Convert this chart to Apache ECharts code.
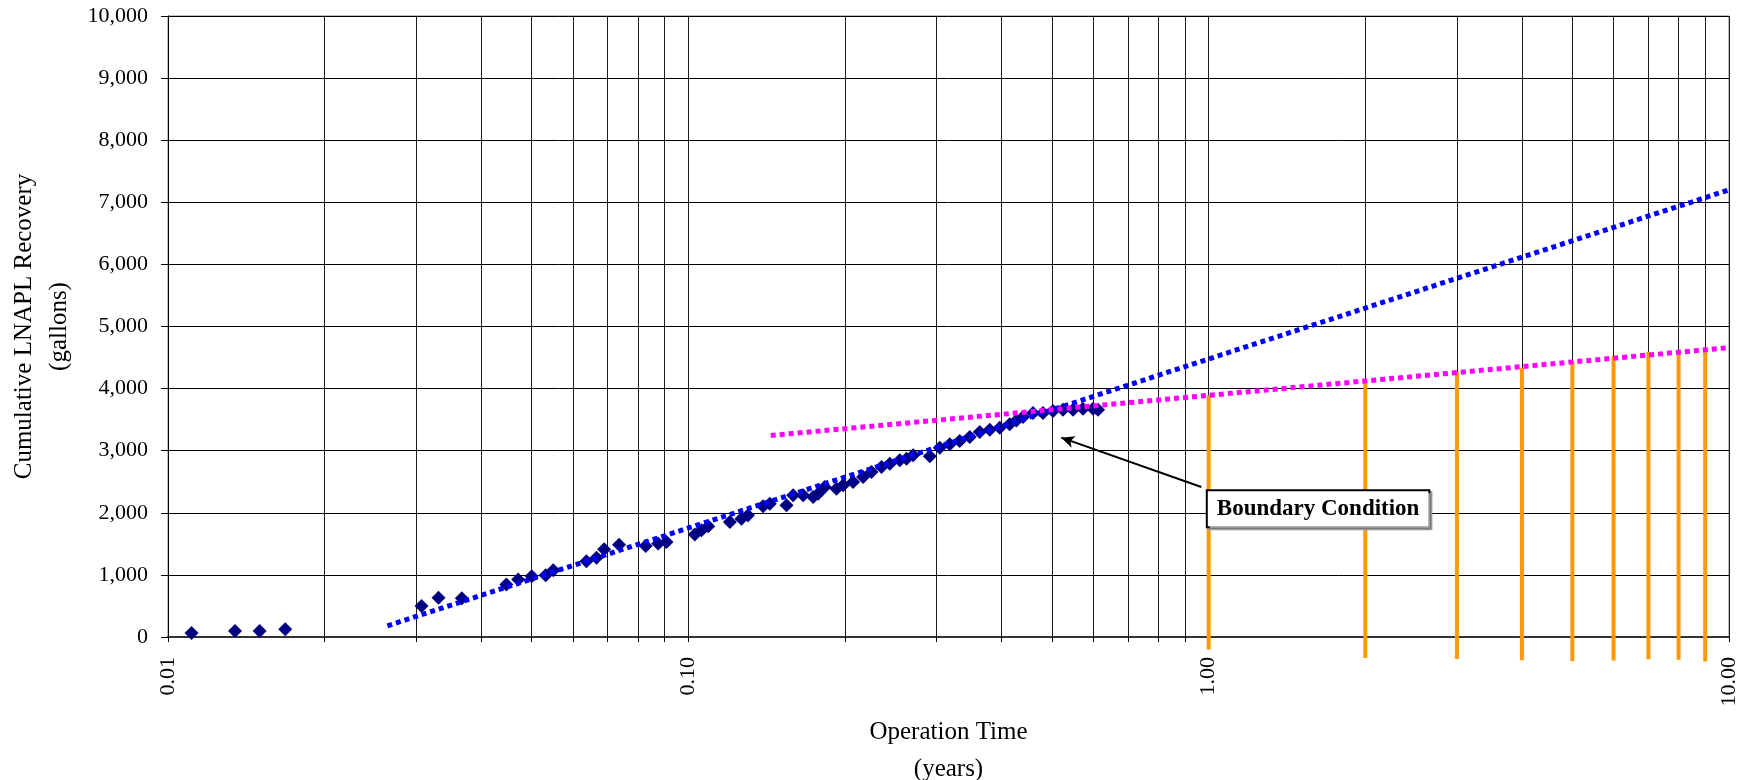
<!DOCTYPE html>
<html>
<head>
<meta charset="utf-8">
<script src="https://cdn.jsdelivr.net/npm/echarts@6/dist/echarts.min.js"></script>
<style>
  html, body { margin: 0; padding: 0; background: #fff; }
  #chart { width: 1751px; height: 780px; }
</style>
</head>
<body>
<div id="chart"></div>
<script>
// operation time (years) and cumulative recovery (gallons)
const timeYears = [0.0111, 0.01345, 0.0150, 0.0168, 0.0307, 0.0331, 0.0367, 0.0447, 0.0471, 0.0500,
  0.0532, 0.0550, 0.0637, 0.0666, 0.0689, 0.0736, 0.0828, 0.0875, 0.0908, 0.1029,
  0.1060, 0.1092, 0.1202, 0.1265, 0.1302, 0.1392, 0.1434, 0.1544, 0.1590, 0.1662,
  0.1737, 0.1776, 0.1829, 0.1926, 0.1983, 0.2073, 0.2167, 0.2249, 0.2351, 0.2439,
  0.2549, 0.2626, 0.2704, 0.2911, 0.3042, 0.3180, 0.3323, 0.3474, 0.3631, 0.3796,
  0.3967, 0.4146, 0.4271, 0.4397, 0.4596, 0.4804, 0.5021, 0.5249, 0.5487, 0.5735,
  0.5995, 0.6129];
const recovery = [65, 97, 97, 124, 499, 634, 625, 844, 924, 977,
  993, 1074, 1219, 1278, 1412, 1487, 1465, 1504, 1529, 1649,
  1718, 1782, 1851, 1906, 1959, 2104, 2147, 2120, 2281, 2281,
  2254, 2308, 2415, 2389, 2442, 2495, 2576, 2656, 2737, 2791,
  2845, 2872, 2925, 2909, 3049, 3102, 3155, 3220, 3300, 3339,
  3371, 3424, 3488, 3542, 3606, 3606, 3638, 3661, 3661, 3677,
  3677, 3661];

// dotted trend lines (end points)
const trendAllX = [0.0264, 10];
const trendAllY = [180, 7200];
const trendLateX = [0.144, 10];
const trendLateY = [3245, 4660];

// orange drop bars
const barX = [1, 2, 3, 4, 5, 6, 7, 8, 9];
const barLow = [-200, -340, -355, -375, -385, -380, -360, -365, -395];
const barHigh = [3891, 4131, 4266, 4337, 4443, 4523, 4594, 4610, 4636];

// axis ticks
const xLabelValues = [0.01, 0.1, 1, 10];
const xTickValues = [0.01, 0.02, 0.03, 0.04, 0.05, 0.06, 0.07, 0.08, 0.09,
  0.1, 0.2, 0.3, 0.4, 0.5, 0.6, 0.7, 0.8, 0.9,
  1, 2, 3, 4, 5, 6, 7, 8, 9, 10];

// annotation
const noteText = 'Boundary Condition';
const noteAt = [1.623, 2064];
const arrowFrom = [0.968, 2415];
const arrowTo = [0.521, 3210];

const font = 'Liberation Serif';
const chart = echarts.init(document.getElementById('chart'));

const pairs = (xs, ys) => xs.map((x, i) => [x, ys[i]]);

chart.setOption({
  animation: false,
  grid: {
    left: 168, right: 22, top: 16, bottom: 143,
    containLabel: false, outerBoundsMode: 'none',
    show: true, borderColor: '#808080', borderWidth: 1
  },
  xAxis: {
    type: 'log',
    logBase: 10,
    min: 0.01,
    max: 10,
    name: 'Operation Time\n(years)',
    nameLocation: 'middle',
    nameGap: 77,
    nameTextStyle: { fontFamily: font, fontSize: 25, color: '#000', lineHeight: 37 },
    axisLine: { lineStyle: { color: '#333', width: 2 } },
    axisTick: { show: true, length: 5, customValues: xTickValues, lineStyle: { color: '#000' } },
    axisLabel: {
      customValues: xLabelValues,
      rotate: 90,
      margin: 20,
      fontFamily: font,
      fontSize: 22,
      color: '#000',
      formatter: v => Number(v).toFixed(2)
    },
    splitLine: { show: true, lineStyle: { color: '#1a1a1a', width: 1 } },
    minorTick: { show: false },
    minorSplitLine: { show: false }
  },
  yAxis: {
    type: 'value',
    min: 0,
    max: 10000,
    interval: 1000,
    name: 'Cumulative LNAPL Recovery\n(gallons)',
    nameLocation: 'middle',
    nameGap: 91,
    nameTextStyle: { fontFamily: font, fontSize: 25, color: '#000', lineHeight: 35 },
    axisLine: { show: true, lineStyle: { color: '#000', width: 1 } },
    axisTick: { show: true, length: 7, lineStyle: { color: '#000' } },
    axisLabel: {
      margin: 20,
      fontFamily: font,
      fontSize: 22,
      color: '#000',
      formatter: v => String(v).replace(/\B(?=(\d{3})+(?!\d))/g, ',')
    },
    splitLine: { show: true, lineStyle: { color: '#000', width: 1 } }
  },
  series: [
    {
      type: 'custom',
      name: 'bars',
      data: barX.map((x, i) => [x, barLow[i], barHigh[i]]),
      encode: { x: 0, y: [1, 2] },
      renderItem: (params, api) => {
        const p0 = api.coord([api.value(0), api.value(1)]);
        const p1 = api.coord([api.value(0), api.value(2)]);
        return {
          type: 'line',
          shape: { x1: p0[0], y1: p0[1], x2: p1[0], y2: p1[1] },
          style: { stroke: '#FF9900', lineWidth: 4 }
        };
      },
      z: 3
    },
    {
      type: 'scatter',
      name: 'recovery',
      data: pairs(timeYears, recovery),
      symbol: 'diamond',
      symbolSize: 14,
      itemStyle: { color: '#000080', opacity: 1 },
      z: 4,
      markLine: {
        silent: true,
        symbol: ['none', 'arrow'],
        symbolSize: [9, 13],
        label: { show: false },
        lineStyle: { color: '#000', width: 2, type: 'solid' },
        data: [[{ coord: arrowFrom }, { coord: arrowTo }]]
      },
      markPoint: {
        silent: true,
        symbol: 'rect',
        symbolSize: 1,
        itemStyle: { color: 'rgba(0,0,0,0)' },
        label: {
          show: true,
          position: 'inside',
          formatter: noteText,
          fontFamily: font,
          fontWeight: 'bold',
          fontSize: 23,
          color: '#000',
          backgroundColor: '#fff',
          borderColor: '#000',
          borderWidth: 2,
          padding: [6, 9],
          shadowColor: '#999',
          shadowOffsetX: 2,
          shadowOffsetY: 2
        },
        data: [{ coord: noteAt }]
      }
    },
    {
      type: 'line',
      name: 'trend all',
      data: pairs(trendAllX, trendAllY),
      symbol: 'none',
      lineStyle: { color: '#0000FF', width: 5, type: [5, 4], cap: 'butt' },
      z: 5
    },
    {
      type: 'line',
      name: 'trend late',
      data: pairs(trendLateX, trendLateY),
      symbol: 'none',
      lineStyle: { color: '#FF00FF', width: 5, type: [5, 4], cap: 'butt' },
      z: 5
    }
  ]
});
</script>
</body>
</html>
